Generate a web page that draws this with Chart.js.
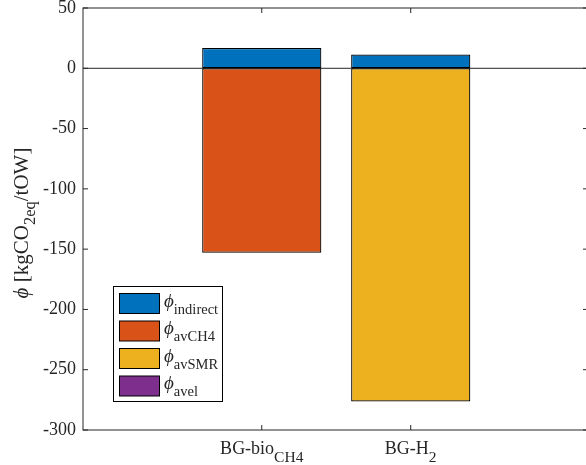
<!DOCTYPE html>
<html>
<head>
<meta charset="utf-8">
<script src="https://cdn.jsdelivr.net/npm/chart.js@4.4.0/dist/chart.umd.min.js"></script>
<style>
  html, body { margin: 0; padding: 0; background: #fff; overflow: hidden; }
</style>
</head>
<body>
<canvas id="chart" width="590" height="465"></canvas>
<script>
// data
const categories = [["BG-bio", "CH4"], ["BG-H", "2"]];
const seriesNames = ["indirect", "avCH4", "avSMR", "avel"];
const phiIndirect = [16.8, 11.4];
const phiAvCH4 = [-153, null];
const phiAvSMR = [null, -276.4];
const phiAvel = [null, null];
const yTicks = [-300, -250, -200, -150, -100, -50, 0, 50];

const colors = ["#0072BD", "#D95319", "#EDB120", "#7E2F8E"];
const serif = "'Liberation Serif', 'Times New Roman', serif";
const ink = "#262626";

function toPoints(values) {
  return values.map((v, i) => ({ x: i + 1, y: v }));
}

// draw a row of text runs (main text + subscripts)
function drawRuns(ctx, runs, x, y, align) {
  let total = 0;
  runs.forEach(r => {
    ctx.font = (r.italic ? "italic " : "") + r.size + "px " + serif;
    r.w = ctx.measureText(r.text).width;
    total += r.w;
  });
  let cx = align === "center" ? x - total / 2 : x;
  ctx.textAlign = "left";
  ctx.textBaseline = "alphabetic";
  runs.forEach(r => {
    ctx.font = (r.italic ? "italic " : "") + r.size + "px " + serif;
    ctx.fillText(r.text, cx, y + (r.dy || 0));
    cx += r.w;
  });
}

const matlabAxes = {
  id: "matlabAxes",
  beforeDatasetsDraw(chart) {
    const { ctx, chartArea: a, scales: { y } } = chart;
    const y0 = y.getPixelForValue(0);
    ctx.save();
    ctx.strokeStyle = ink;
    ctx.lineWidth = 1;
    ctx.beginPath();
    ctx.moveTo(a.left, y0);
    ctx.lineTo(a.right, y0);
    ctx.stroke();
    ctx.restore();
  },
  afterDatasetsDraw(chart) {
    const { ctx, chartArea: a, scales: { x, y } } = chart;
    ctx.save();
    ctx.strokeStyle = ink;
    ctx.lineWidth = 1;
    ctx.strokeRect(a.left, a.top, a.right - a.left, a.bottom - a.top);

    // y ticks, inward on both sides
    ctx.fillStyle = ink;
    yTicks.forEach(t => {
      const py = y.getPixelForValue(t);
      ctx.beginPath();
      ctx.moveTo(a.left, py); ctx.lineTo(a.left + 5, py);
      ctx.moveTo(a.right, py); ctx.lineTo(a.right - 5, py);
      ctx.stroke();
      ctx.font = "18px " + serif;
      ctx.textAlign = "right";
      ctx.textBaseline = "middle";
      ctx.fillText(String(t), a.left - 7, py);
    });

    // x ticks and category labels
    categories.forEach((c, i) => {
      const px = x.getPixelForValue(i + 1);
      ctx.beginPath();
      ctx.moveTo(px, a.top); ctx.lineTo(px, a.top + 5);
      ctx.moveTo(px, a.bottom); ctx.lineTo(px, a.bottom - 5);
      ctx.stroke();
      drawRuns(ctx, [
        { text: c[0], size: 18 },
        { text: c[1], size: 15.5, dy: 8 }
      ], px, a.bottom + 24, "center");
    });

    // y axis title
    ctx.save();
    ctx.translate(28, (a.top + a.bottom) / 2 + 4);
    ctx.rotate(-Math.PI / 2);
    drawRuns(ctx, [
      { text: "\u03D5", size: 21, italic: true },
      { text: " [kgCO", size: 21 },
      { text: "2eq", size: 16.5, dy: 7 },
      { text: "/tOW]", size: 21 }
    ], 0, 0, "center");
    ctx.restore();

    // legend
    const lx = 113.5, ly = 286.5;
    ctx.fillStyle = "#fff";
    ctx.fillRect(lx, ly, 109, 115);
    ctx.strokeStyle = "#000";
    ctx.strokeRect(lx, ly, 109, 115);
    chart.data.datasets.forEach((ds, i) => {
      const by = 293.5 + i * 27.5;
      ctx.fillStyle = ds.backgroundColor;
      ctx.fillRect(119.5, by, 40, 20);
      ctx.strokeStyle = "#000";
      ctx.strokeRect(119.5, by, 40, 20);
      ctx.fillStyle = ink;
      drawRuns(ctx, [
        { text: "\u03D5", size: 19, italic: true },
        { text: seriesNames[i], size: 14.5, dy: 7 }
      ], 164, by + 13, "left");
    });
    ctx.restore();
  }
};

const datasets = [phiIndirect, phiAvCH4, phiAvSMR, phiAvel].map((vals, i) => ({
  label: seriesNames[i],
  data: toPoints(vals),
  backgroundColor: colors[i],
  borderColor: "#000",
  borderWidth: 1.2,
  borderSkipped: false,
  categoryPercentage: 1,
  barPercentage: 0.8
}));

new Chart(document.getElementById("chart"), {
  type: "bar",
  data: { datasets },
  options: {
    responsive: false,
    animation: false,
    layout: { padding: { left: 83, right: 2, top: 8, bottom: 35 } },
    plugins: { legend: { display: false }, tooltip: { enabled: false } },
    scales: {
      x: {
        type: "linear",
        min: -0.2,
        max: 3.19,
        stacked: true,
        offset: false,
        afterBuildTicks: s => { s.ticks = categories.map((c, i) => ({ value: i + 1 })); },
        ticks: { display: false },
        grid: { display: false, drawTicks: false },
        border: { display: false }
      },
      y: {
        min: -300,
        max: 50,
        stacked: true,
        ticks: { display: false, stepSize: 50 },
        grid: { display: false, drawTicks: false },
        border: { display: false }
      }
    }
  },
  plugins: [matlabAxes]
});
</script>
</body>
</html>
